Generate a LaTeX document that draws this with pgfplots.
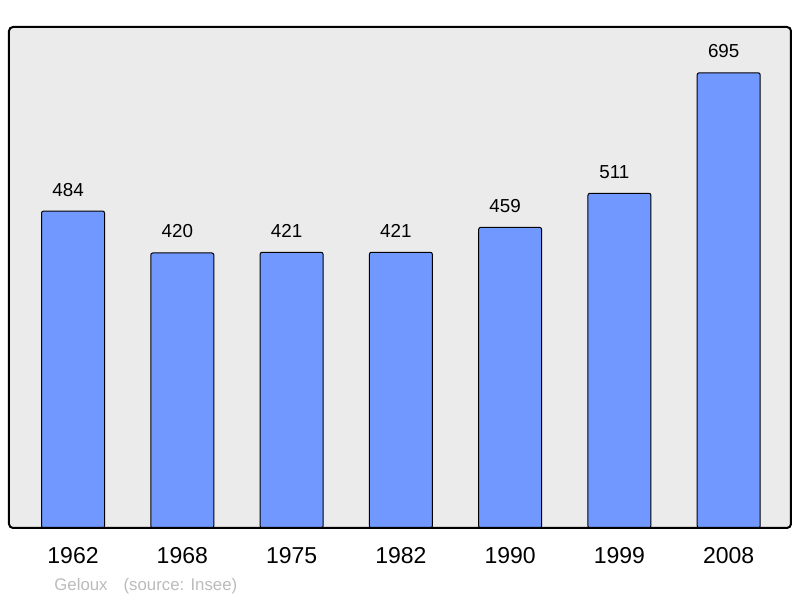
\documentclass[border=0pt]{standalone}
\usepackage{pgfplots}
\pgfplotsset{compat=1.18}
\usepackage{fontspec}
\setmainfont{Liberation Sans}
\definecolor{barfill}{RGB}{112,152,255}
\definecolor{bgcol}{RGB}{235,235,235}
\definecolor{srcgray}{RGB}{187,187,187}
\begin{document}
\begin{tikzpicture}
\path[use as bounding box] (0,0) rectangle (400pt,299pt);
\begin{axis}[
  at={(4.5pt,35pt)}, anchor=south west,
  scale only axis, width=391pt, height=250.5pt,
  xmin=-0.586, xmax=6.57, ymin=0, ymax=765,
  axis background/.style={fill=bgcol},
  axis line style={draw=none},
  xtick=data, xticklabels={1962,1968,1975,1982,1990,1999,2008},
  xtick style={draw=none}, ytick=\empty,
  xticklabel style={anchor=base, yshift=-13.5pt, font=\fontsize{11.5pt}{13pt}\selectfont},
  /pgf/number format/assume math mode=true,
  ybar, bar width=0.576, bar shift=0pt,
  nodes near coords,
  every node near coord/.style={anchor=base, xshift=-2.5pt, yshift=7.5pt, inner sep=0pt, font=\fontsize{9.4pt}{11pt}\selectfont},
  clip=false,
]
\addplot[fill=barfill, draw=black, line width=0.5pt, rounded corners=1pt] coordinates {
 (0,484) (1,420) (2,421) (3,421) (4,459) (5,511) (6,695)};
\draw[line width=1pt, rounded corners=2pt] (rel axis cs:0,0) rectangle (rel axis cs:1,1);
\end{axis}
\node[anchor=base west, inner sep=0pt, text=srcgray, font=\fontsize{8.4pt}{10pt}\selectfont] at (27pt,3.5pt) {Geloux\hspace{8pt}(source: Insee)};
\end{tikzpicture}
\end{document}
